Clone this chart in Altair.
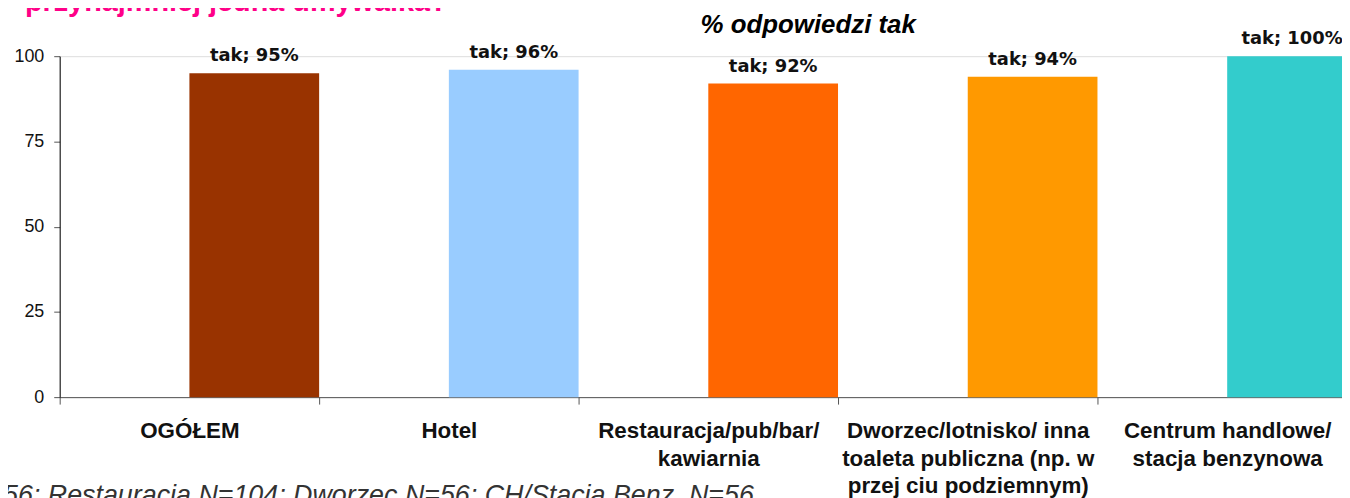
import altair as alt
import pandas as pd

# ---- data ----
categories = [
    "OGÓŁEM",
    "Hotel",
    "Restauracja/pub/bar/|kawiarnia",
    "Dworzec/lotnisko/ inna|toaleta publiczna (np. w|przej ciu podziemnym)",
    "Centrum handlowe/|stacja benzynowa",
]
values = [95, 96, 92, 94, 100]
value_labels = ["tak; 95%", "tak; 96%", "tak; 92%", "tak; 94%", "tak; 100%"]
bar_colors = ["#993300", "#99CCFF", "#FF6600", "#FF9900", "#33CCCC"]
series_slots = ["_", "tak"]
y_ticks = [0, 25, 50, 75, 100]

title_text = "przynajmniej jedna umywalka?"
subtitle_text = "% odpowiedzi tak"
footnote_text = "56; Restauracja N=104; Dworzec N=56; CH/Stacja Benz. N=56"

df = pd.DataFrame({
    "kategoria": categories,
    "wartosc": values,
    "etykieta": value_labels,
    "seria": ["tak"] * len(categories),
})

W, H = 1290, 343
BAND = 261

x_enc = alt.X(
    "kategoria:N",
    sort=categories,
    scale=alt.Scale(domain=categories, range=[0, BAND * len(categories)],
                    paddingInner=0, paddingOuter=0),
    axis=alt.Axis(
        title=None, labelAngle=0, tickBand="extent", tickSize=7,
        labelExpr="isValid(datum.value) ? split(datum.value, '|') : ''",
        labelFont="Liberation Sans", labelFontWeight="bold", labelFontSize=22.5,
        labelColor="#111111", labelLineHeight=27.5, labelPadding=16,
        labelBaseline="top",
        domainColor="#555555", tickColor="#555555", labelLimit=400,
    ),
)
xoff_enc = alt.XOffset("seria:N", scale=alt.Scale(domain=series_slots, paddingInner=0, paddingOuter=0))
y_enc = alt.Y(
    "wartosc:Q",
    scale=alt.Scale(domain=[0, 100], nice=False),
    axis=alt.Axis(
        title=None, values=y_ticks, grid=False, tickSize=6, labelPadding=10,
        labelFont="Liberation Sans", labelFontSize=18, labelColor="#111111",
        domainColor="#000000", tickColor="#555555",
    ),
)

bars = alt.Chart(df).mark_bar().encode(
    x=x_enc,
    xOffset=xoff_enc,
    y=y_enc,
    color=alt.Color("kategoria:N", scale=alt.Scale(domain=categories, range=bar_colors), legend=None),
)

texts = alt.Chart(df).mark_text(
    dy=-12, baseline="alphabetic", align="center",
    font="DejaVu Sans", fontWeight="bold", fontSize=18, color="#111111",
).encode(
    x=alt.X("kategoria:N", sort=categories),
    xOffset="seria:N",
    y="wartosc:Q",
    text="etykieta:N",
)

title_layer = alt.Chart(alt.Data(values=[{"t": title_text}])).mark_text(
    align="left", baseline="alphabetic", font="Liberation Sans",
    fontWeight="bold", fontSize=29, color="#FF0088",
).encode(x=alt.value(-35), y=alt.value(-45), text="t:N")

subtitle_layer = alt.Chart(alt.Data(values=[{"t": subtitle_text}])).mark_text(
    align="center", baseline="alphabetic", font="Liberation Sans",
    fontWeight="bold", fontStyle="italic", fontSize=26, color="#000000",
).encode(x=alt.value(753), y=alt.value(-23), text="t:N")

footnote_layer = alt.Chart(alt.Data(values=[{"t": footnote_text}])).mark_text(
    align="left", baseline="alphabetic", font="Liberation Sans",
    fontStyle="italic", fontSize=27, color="#333333",
).encode(x=alt.value(-57), y=alt.value(451), text="t:N")

chart = alt.layer(bars, texts, title_layer, subtitle_layer, footnote_layer).properties(
    width=W, height=H,
    autosize=alt.AutoSizeParams(type="none"),
    padding={"left": 52, "top": 47, "right": 0, "bottom": 100},
).configure_view(stroke=None).configure(background="white")

chart.save("out.html", embed_options={"renderer": "svg", "actions": False})
